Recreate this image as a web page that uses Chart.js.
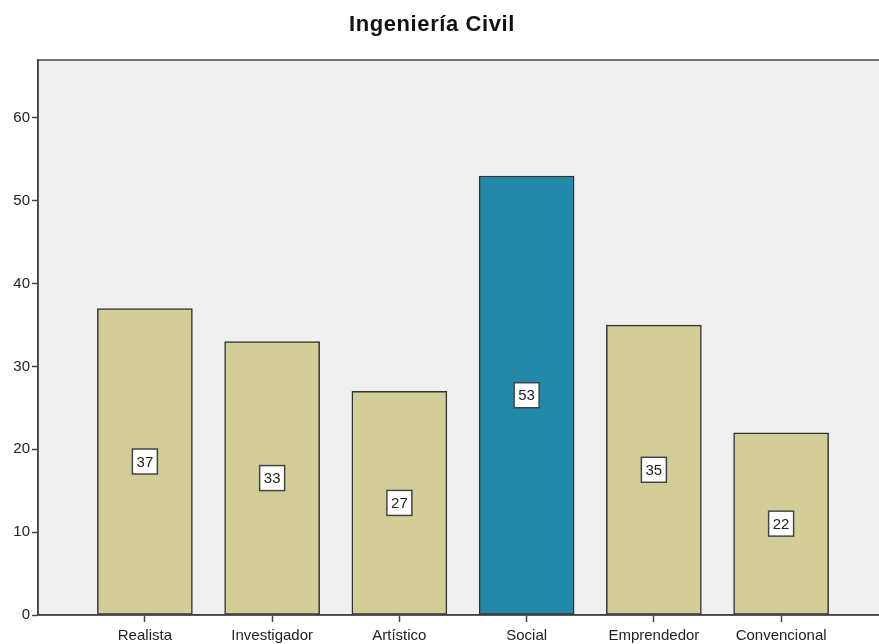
<!DOCTYPE html>
<html>
<head>
<meta charset="utf-8">
<script src="https://cdn.jsdelivr.net/npm/chart.js@4"></script>
<style>
  body { margin: 0; background: #fff; overflow: hidden; }
  #wrap { position: relative; width: 890px; height: 644px; }
  #title {
    position: absolute; left: 0; top: 11px; width: 864px; text-align: center;
    font: bold 22px "Liberation Sans", Arial, sans-serif; color: #111; letter-spacing: 0.6px;
  }
</style>
</head>
<body>
<div id="wrap">
  <div id="title">Ingeniería Civil</div>
  <canvas id="myChart"></canvas>
</div>
<script>
const categories = ['Realista', 'Investigador', 'Artístico', 'Social', 'Emprendedor', 'Convencional']
const values = [37, 33, 27, 53, 35, 22]
const barColors = ['#d3ce97', '#d3ce97', '#d3ce97', '#2389ab', '#d3ce97', '#d3ce97']

// fondo gris del area del grafico y marco superior
const plotFrame = {
  id: 'plotFrame',
  beforeDraw(chart) {
    const { ctx, chartArea: a } = chart
    ctx.save()
    ctx.fillStyle = '#f0f0f0'
    ctx.fillRect(a.left, a.top, a.right - a.left, a.bottom - a.top)
    ctx.restore()
  },
  afterDraw(chart) {
    const { ctx, chartArea: a } = chart
    ctx.save()
    ctx.strokeStyle = '#444'
    ctx.lineWidth = 1.5
    ctx.strokeRect(a.left, a.top, a.right - a.left, a.bottom - a.top)
    ctx.restore()
  }
}

// etiquetas con caja blanca en el centro de cada barra
const boxLabels = {
  id: 'boxLabels',
  afterDatasetsDraw(chart) {
    const { ctx } = chart
    const meta = chart.getDatasetMeta(0)
    ctx.save()
    ctx.font = '15px "Liberation Sans", Arial, sans-serif'
    ctx.textAlign = 'center'
    ctx.textBaseline = 'middle'
    meta.data.forEach((bar, i) => {
      const cx = bar.x
      const cy = (bar.y + bar.base) / 2
      const w = 25, h = 25
      ctx.fillStyle = '#fff'
      ctx.fillRect(cx - w / 2, cy - h / 2, w, h)
      ctx.strokeStyle = '#444'
      ctx.lineWidth = 1.5
      ctx.strokeRect(cx - w / 2, cy - h / 2, w, h)
      ctx.fillStyle = '#222'
      ctx.fillText(String(values[i]), cx, cy + 1)
    })
    ctx.restore()
  }
}

const config = {
  type: 'bar',
  data: {
    datasets: [
      {
        data: categories.map((c, i) => ({ x: i, y: values[i] })),
        backgroundColor: barColors,
        borderColor: '#333',
        borderWidth: 1.5,
        borderSkipped: false,
        barThickness: 95
      }
    ]
  },
  options: {
    responsive: false,
    animation: false,
    layout: { padding: { top: 60, right: 2 } },
    plugins: {
      legend: { display: false },
      tooltip: { enabled: false }
    },
    scales: {
      x: {
        type: 'linear',
        min: -0.84,
        max: 5.84,
        offset: false,
        afterFit(scale) { scale.height = 29 },
        border: { color: '#444', width: 1.5 },
        grid: { offset: false, drawOnChartArea: false, tickLength: 7, tickColor: '#444', tickWidth: 1.5 },
        ticks: {
          stepSize: 1,
          includeBounds: false,
          autoSkip: false,
          maxRotation: 0,
          padding: 5,
          color: '#222',
          font: { size: 15, family: '"Liberation Sans", Arial, sans-serif' },
          callback: (v) => categories[v]
        }
      },
      y: {
        min: 0,
        max: 67,
        afterFit(scale) { scale.width = 38 },
        border: { color: '#444', width: 1.5 },
        grid: { drawOnChartArea: false, tickLength: 6, tickColor: '#444', tickWidth: 1.5 },
        ticks: {
          stepSize: 10,
          includeBounds: false,
          padding: 2,
          color: '#222',
          font: { size: 15, family: '"Liberation Sans", Arial, sans-serif' }
        }
      }
    }
  },
  plugins: [plotFrame, boxLabels]
}

const canvas = document.getElementById('myChart')
canvas.width = 890
canvas.height = 644
var myChart = new Chart(canvas, config)
</script>
</body>
</html>
